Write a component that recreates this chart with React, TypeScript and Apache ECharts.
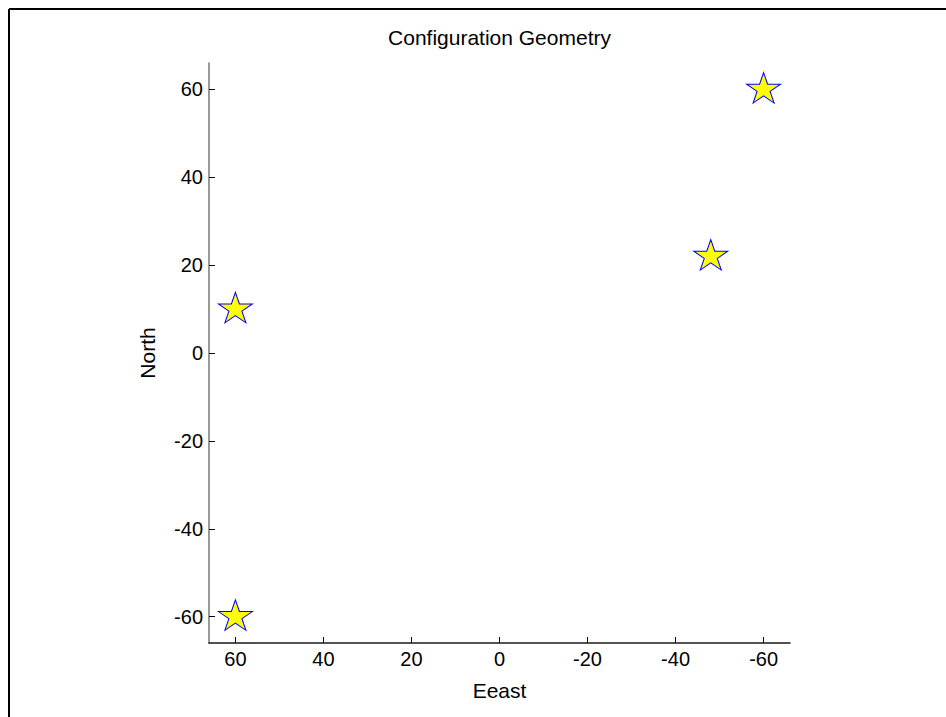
import React, { useEffect, useRef } from "react";
import * as echarts from "echarts";

const eastValues = [60, 60, -48, -60];
const northValues = [10, -60, 22, 60];
const tickValues = [-60, -40, -20, 0, 20, 40, 60];
const titleText = "Configuration Geometry";
const xName = "Eeast";
const yName = "North";

const FONT = "'Liberation Sans', Arial, Helvetica, sans-serif";
const STAR =
  "path://M50 0 L61.2 34.5 L97.6 34.5 L68.2 55.9 L79.4 90.5 L50 69.1 L20.6 90.5 L31.8 55.9 L2.4 34.5 L38.8 34.5 Z";

export default function App() {
  const ref = useRef<HTMLDivElement>(null);
  useEffect(() => {
    if (!ref.current) return;
    const chart = echarts.init(ref.current, null, { renderer: "svg" });
    const data = eastValues.map((e, i) => [e, northValues[i]]);
    chart.setOption({
      animation: false,
      backgroundColor: "#ffffff",
      grid: { left: 209, top: 63, width: 581, height: 580, containLabel: false },
      xAxis: {
        type: "value",
        inverse: true,
        min: -66,
        max: 66,
        splitLine: { show: false },
        axisLine: { show: true, onZero: false, lineStyle: { color: "#1a1a1a", width: 1.5 } },
        axisTick: {
          show: true,
          inside: true,
          length: 6,
          customValues: tickValues,
          lineStyle: { color: "#000", width: 1 },
        },
        axisLabel: {
          customValues: tickValues,
          margin: 6,
          fontSize: 20,
          color: "#000",
          fontFamily: FONT,
        },
      },
      yAxis: {
        type: "value",
        min: -66,
        max: 66,
        splitLine: { show: false },
        axisLine: { show: true, onZero: false, lineStyle: { color: "#777777", width: 1.5 } },
        axisTick: {
          show: true,
          inside: true,
          length: 6,
          customValues: tickValues,
          lineStyle: { color: "#000", width: 1 },
        },
        axisLabel: {
          customValues: tickValues,
          margin: 6,
          fontSize: 20,
          color: "#000",
          fontFamily: FONT,
        },
      },
      series: [
        {
          type: "scatter",
          data,
          symbol: STAR,
          symbolSize: [34, 32],
          symbolKeepAspect: true,
          symbolOffset: [0, -1.5],
          itemStyle: { color: "#ffff00", borderColor: "#0000ff", borderWidth: 1, opacity: 1 },
        },
      ],
      graphic: [
        { type: "line", shape: { x1: 9, y1: 9, x2: 946, y2: 9 }, style: { stroke: "#000", lineWidth: 2 } },
        { type: "line", shape: { x1: 9, y1: 9, x2: 9, y2: 717 }, style: { stroke: "#000", lineWidth: 2 } },
        {
          type: "text",
          x: 499.5,
          y: 37,
          style: { text: titleText, fill: "#000", fontSize: 21, fontFamily: FONT, align: "center", verticalAlign: "middle" },
        },
        {
          type: "text",
          x: 499.5,
          y: 690,
          style: { text: xName, fill: "#000", fontSize: 21, fontFamily: FONT, align: "center", verticalAlign: "middle" },
        },
        {
          type: "text",
          x: 147,
          y: 353,
          rotation: Math.PI / 2,
          style: { text: yName, fill: "#000", fontSize: 21, fontFamily: FONT, align: "center", verticalAlign: "middle" },
        },
      ],
    });
    return () => chart.dispose();
  }, []);
  return (
    <div
      ref={ref}
      style={{ position: "fixed", left: 0, top: 0, width: 946, height: 717, background: "#fff" }}
    />
  );
}
